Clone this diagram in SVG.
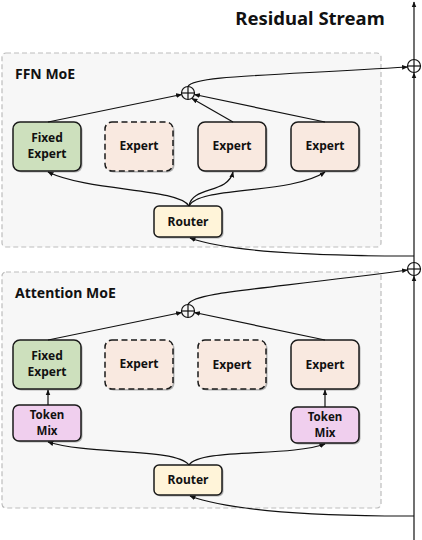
<svg xmlns="http://www.w3.org/2000/svg" width="422" height="540" viewBox="0 0 422 540">
<defs>
<marker id="ah" viewBox="0 0 10 10" refX="9" refY="5" markerWidth="6" markerHeight="6" markerUnits="userSpaceOnUse" orient="auto">
<path d="M0,1 L10,5 L0,9 Z" fill="#111"/>
</marker>
</defs>
<style>
text{font-family:"Noto Sans","Open Sans","DejaVu Sans",sans-serif;font-weight:bold;fill:#111}
.grp{fill:#f7f7f7;stroke:#bdbdbd;stroke-width:1.2;stroke-dasharray:5,3}
.sh{fill:#7a7a7a;opacity:0.55}
.node{stroke:#1a1a1a;stroke-width:1.5}
.dash{stroke-dasharray:6,3.5}
.fixed{fill:#cde0bd}
.exp{fill:#f9e9e0}
.tok{fill:#f0cfee}
.rout{fill:#fff4d9}
.lbl{font-size:12px;text-anchor:middle}
.sm{font-size:11.5px}
.ttl{font-size:14px}
.con{fill:none;stroke:#111;stroke-width:1.2}
.plus circle{fill:none;stroke:#111;stroke-width:1.2}
.plus line{stroke:#111;stroke-width:1.2}
</style>

<text x="310" y="25" style="font-size:18.5px;text-anchor:middle">Residual Stream</text>

<g id="ffn-group">
<rect class="grp" x="2" y="53" width="379" height="194" rx="4"/>
<text class="ttl" x="15" y="79">FFN MoE</text>
</g>
<g id="attn-group">
<rect class="grp" x="2" y="272" width="379" height="236" rx="4"/>
<text class="ttl" x="15" y="298">Attention MoE</text>
</g>

<!-- FFN nodes -->
<g id="ffn-fixed">
<rect class="sh" x="14.5" y="123.5" width="68" height="49" rx="7"/>
<rect class="node fixed" x="13" y="122" width="68" height="49" rx="7"/>
<text class="lbl" x="47" y="142">Fixed</text>
<text class="lbl" x="47" y="158">Expert</text>
</g>
<g id="ffn-expert1">
<rect class="sh" x="106.5" y="123.5" width="68" height="49" rx="7"/>
<rect class="node exp dash" x="105" y="122" width="68" height="49" rx="7"/>
<text class="lbl" x="139" y="150">Expert</text>
</g>
<g id="ffn-expert2">
<rect class="sh" x="199.5" y="123.5" width="68" height="49" rx="7"/>
<rect class="node exp" x="198" y="122" width="68" height="49" rx="7"/>
<text class="lbl" x="232" y="150">Expert</text>
</g>
<g id="ffn-expert3">
<rect class="sh" x="292.5" y="123.5" width="68" height="49" rx="7"/>
<rect class="node exp" x="291" y="122" width="68" height="49" rx="7"/>
<text class="lbl" x="325" y="150">Expert</text>
</g>
<g id="ffn-router">
<rect class="sh" x="155.5" y="207.5" width="68" height="31" rx="5"/>
<rect class="node rout" x="154" y="206" width="68" height="31" rx="5"/>
<text class="lbl" x="188" y="226">Router</text>
</g>
<g id="ffn-plus" class="plus">
<circle cx="188" cy="93" r="6.5"/>
<line x1="181.5" y1="93" x2="194.5" y2="93"/>
<line x1="188" y1="86.5" x2="188" y2="99.5"/>
</g>

<!-- Attention nodes -->
<g id="attn-fixed">
<rect class="sh" x="14.5" y="341.5" width="68" height="49" rx="7"/>
<rect class="node fixed" x="13" y="340" width="68" height="49" rx="7"/>
<text class="lbl" x="47" y="360">Fixed</text>
<text class="lbl" x="47" y="376">Expert</text>
</g>
<g id="attn-expert1">
<rect class="sh" x="106.5" y="341.5" width="68" height="49" rx="7"/>
<rect class="node exp dash" x="105" y="340" width="68" height="49" rx="7"/>
<text class="lbl" x="139" y="368">Expert</text>
</g>
<g id="attn-expert2">
<rect class="sh" x="199.5" y="341.5" width="68" height="49" rx="7"/>
<rect class="node exp dash" x="198" y="340" width="68" height="49" rx="7"/>
<text class="lbl" x="232" y="369">Expert</text>
</g>
<g id="attn-expert3">
<rect class="sh" x="292.5" y="341.5" width="68" height="49" rx="7"/>
<rect class="node exp" x="291" y="340" width="68" height="49" rx="7"/>
<text class="lbl" x="325" y="369">Expert</text>
</g>
<g id="attn-tokenmix1">
<rect class="sh" x="14.5" y="406.5" width="68" height="36" rx="6"/>
<rect class="node tok" x="13" y="405" width="68" height="36" rx="6"/>
<text class="lbl sm" x="47" y="419">Token</text>
<text class="lbl sm" x="47" y="435">Mix</text>
</g>
<g id="attn-tokenmix2">
<rect class="sh" x="292.5" y="408.5" width="68" height="36" rx="6"/>
<rect class="node tok" x="291" y="407" width="68" height="36" rx="6"/>
<text class="lbl sm" x="325" y="421">Token</text>
<text class="lbl sm" x="325" y="437">Mix</text>
</g>
<g id="attn-router">
<rect class="sh" x="155.5" y="466.5" width="68" height="30" rx="5"/>
<rect class="node rout" x="154" y="465" width="68" height="30" rx="5"/>
<text class="lbl" x="188" y="484">Router</text>
</g>
<g id="attn-plus" class="plus">
<circle cx="188" cy="311" r="6.5"/>
<line x1="181.5" y1="311" x2="194.5" y2="311"/>
<line x1="188" y1="304.5" x2="188" y2="317.5"/>
</g>

<!-- Residual pluses -->
<g id="res-plus-top" class="plus">
<circle cx="414" cy="66" r="6.5"/>
<line x1="407.5" y1="66" x2="420.5" y2="66"/>
<line x1="414" y1="59.5" x2="414" y2="72.5"/>
</g>
<g id="res-plus-mid" class="plus">
<circle cx="414" cy="269" r="6.5"/>
<line x1="407.5" y1="269" x2="420.5" y2="269"/>
<line x1="414" y1="262.5" x2="414" y2="275.5"/>
</g>

<g id="connectors">
<!-- residual stream -->
<path class="con" d="M414,540 L414,276" marker-end="url(#ah)"/>
<path class="con" d="M414,262.5 L414,73" marker-end="url(#ah)"/>
<path class="con" d="M414,59.5 L414,2" marker-end="url(#ah)"/>

<!-- FFN -->
<path class="con" d="M414,256 L385,256 C310,255 230,252 190,238" marker-end="url(#ah)"/>
<path class="con" d="M189,206 C178,188 90,192 48,172" marker-end="url(#ah)"/>
<path class="con" d="M189,206 C192,186 228,194 233,172" marker-end="url(#ah)"/>
<path class="con" d="M189,206 C198,186 290,195 325,172" marker-end="url(#ah)"/>
<path class="con" d="M48,122 L181.5,94.5" marker-end="url(#ah)"/>
<path class="con" d="M233,122 L192,98.5" marker-end="url(#ah)"/>
<path class="con" d="M325,122 L194.5,94.5" marker-end="url(#ah)"/>
<path class="con" d="M188,86.5 C193,76 260,76 407.5,67" marker-end="url(#ah)"/>

<!-- Attention -->
<path class="con" d="M414,516 L385,516 C310,515 230,511 190,496" marker-end="url(#ah)"/>
<path class="con" d="M189,465 C176,448 90,455 48,442" marker-end="url(#ah)"/>
<path class="con" d="M189,465 C200,448 290,457 325,444" marker-end="url(#ah)"/>
<path class="con" d="M48,405 L48,390" marker-end="url(#ah)"/>
<path class="con" d="M325,407 L325,390" marker-end="url(#ah)"/>
<path class="con" d="M48,340 L181.5,312.5" marker-end="url(#ah)"/>
<path class="con" d="M325,340 L194.5,312.5" marker-end="url(#ah)"/>
<path class="con" d="M188,304.5 C193,292 260,290 407.5,270" marker-end="url(#ah)"/>
</g>
</svg>
